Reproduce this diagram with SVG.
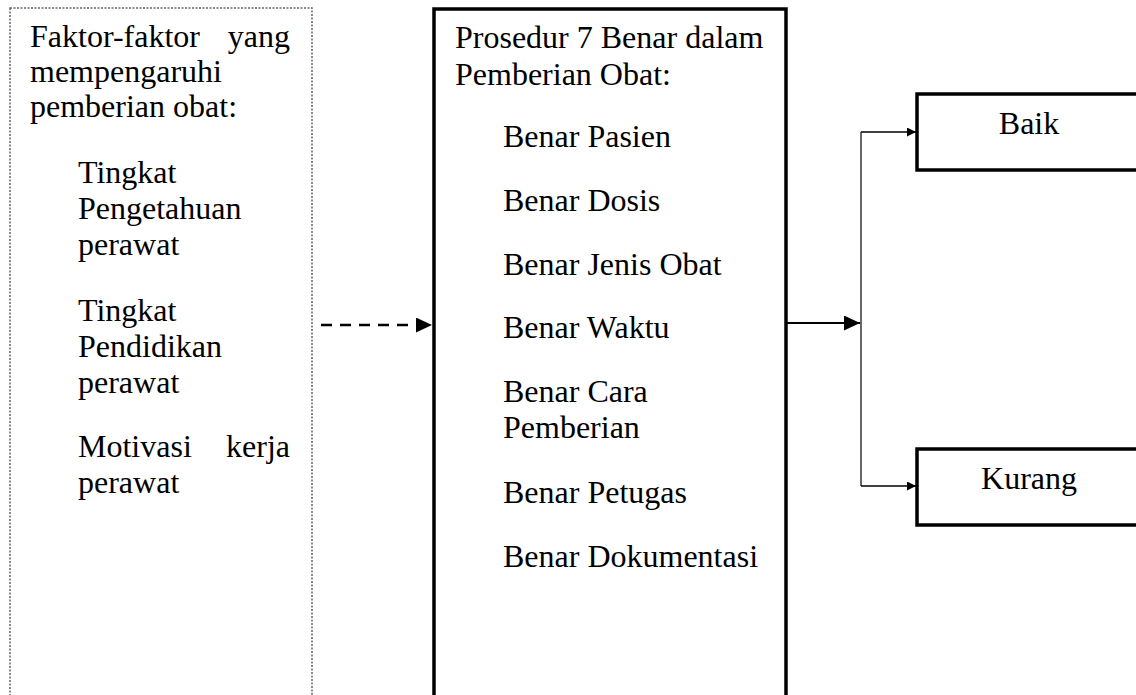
<svg xmlns="http://www.w3.org/2000/svg" width="1136" height="695" viewBox="0 0 1136 695">
<style>
text{font-family:"Liberation Serif","Times New Roman",serif;font-size:32px;fill:#000}
.box{fill:#fff;stroke:#000;stroke-width:3.5}
.dot{fill:#fff;stroke:#666;stroke-width:1.5;stroke-dasharray:2 1.5}
.ln{fill:none;stroke:#000}
</style>
<defs>
<marker id="big" markerUnits="userSpaceOnUse" markerWidth="17" markerHeight="16" refX="16" refY="7.5" orient="auto"><path d="M0,0 L16,7.5 L0,15 z" fill="#000"/></marker>
<marker id="small" markerUnits="userSpaceOnUse" markerWidth="10" markerHeight="10" refX="9" refY="4.5" orient="auto"><path d="M0,0 L9,4.5 L0,9 z" fill="#000"/></marker>
</defs>
<g id="faktor">
<rect class="dot" x="10" y="8" width="302" height="700"/>
<text x="30" y="47">Faktor-faktor</text><text x="290" y="47" text-anchor="end">yang</text>
<text x="30" y="82">mempengaruhi</text>
<text x="30" y="117">pemberian obat:</text>
<text x="78" y="183">Tingkat</text>
<text x="78" y="219">Pengetahuan</text>
<text x="78" y="255">perawat</text>
<text x="78" y="321">Tingkat</text>
<text x="78" y="357">Pendidikan</text>
<text x="78" y="393">perawat</text>
<text x="78" y="457">Motivasi</text><text x="290" y="457" text-anchor="end">kerja</text>
<text x="78" y="493">perawat</text>
</g>
<g id="prosedur">
<rect class="box" x="434" y="9" width="352" height="700"/>
<text x="455" y="48">Prosedur 7 Benar dalam</text>
<text x="455" y="85">Pemberian Obat:</text>
<text x="503" y="147">Benar Pasien</text>
<text x="503" y="211">Benar Dosis</text>
<text x="503" y="275">Benar Jenis Obat</text>
<text x="503" y="338">Benar Waktu</text>
<text x="503" y="402">Benar Cara</text>
<text x="503" y="438">Pemberian</text>
<text x="503" y="503">Benar Petugas</text>
<text x="503" y="567">Benar Dokumentasi</text>
</g>
<g id="baik">
<rect class="box" x="917" y="94" width="240" height="76"/>
<text x="1029" y="134" text-anchor="middle">Baik</text>
</g>
<g id="kurang">
<rect class="box" x="917" y="449" width="240" height="76"/>
<text x="1029" y="489" text-anchor="middle">Kurang</text>
</g>
<g id="connectors">
<line class="ln" x1="321" y1="325" x2="432" y2="325" stroke-width="2.5" stroke-dasharray="11 8" marker-end="url(#big)"/>
<line class="ln" x1="787" y1="323" x2="860" y2="323" stroke-width="2" marker-end="url(#big)"/>
<line class="ln" x1="861" y1="132" x2="861" y2="486" stroke="#555" stroke-width="1.2"/>
<line class="ln" x1="861" y1="132" x2="916" y2="132" stroke-width="1.5" marker-end="url(#small)"/>
<line class="ln" x1="861" y1="486" x2="916" y2="486" stroke-width="1.5" marker-end="url(#small)"/>
</g>
</svg>
